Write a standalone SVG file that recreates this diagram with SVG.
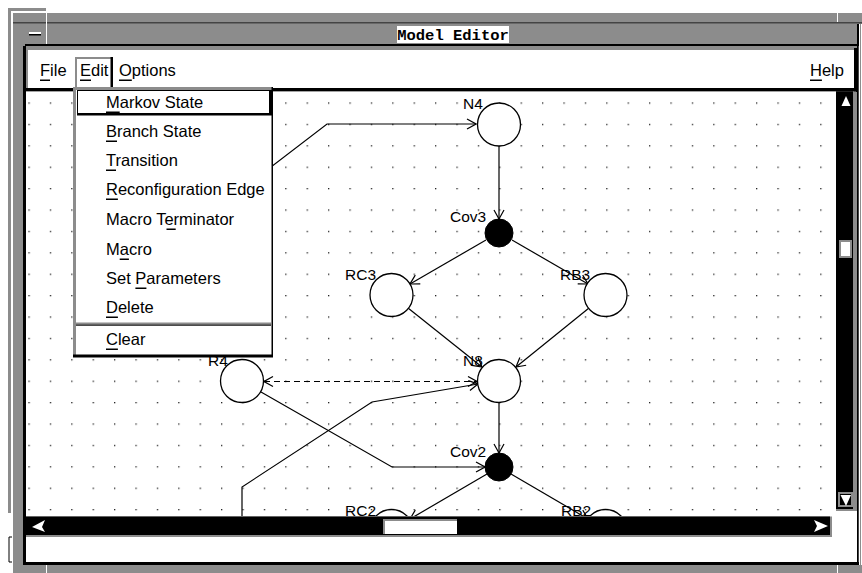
<svg xmlns="http://www.w3.org/2000/svg" width="862" height="573" viewBox="0 0 862 573">
<style>
.t{font-family:"Liberation Sans",Arial,sans-serif;font-size:16.5px;fill:#000}
.lb{font-family:"Liberation Sans",Arial,sans-serif;font-size:15.5px;fill:#000}
.ttl{font-family:"Liberation Mono","DejaVu Sans Mono",monospace;font-size:15.5px;font-weight:bold;fill:#000}
.e{fill:none;stroke:#000;stroke-width:1.2}
.d{stroke-dasharray:6 4}
.nd{fill:#fff;stroke:#000;stroke-width:1.3}
.bn{fill:#000;stroke:#000;stroke-width:1}
.st{fill:#8c8c8c}
.k{fill:#000}
.w{fill:#fff}
</style>
<defs>
<pattern id="grid" patternUnits="userSpaceOnUse" x="28.4" y="102.4" width="21.4" height="21.4"><rect width="1.3" height="1.3" fill="#222"/></pattern>
<marker id="ah" viewBox="0 0 12 12" refX="11" refY="6" markerWidth="12" markerHeight="12" markerUnits="userSpaceOnUse" orient="auto-start-reverse"><path d="M2,1 L11,6 L2,11" fill="none" stroke="#000" stroke-width="1.2"/></marker>
<clipPath id="cv"><rect x="26" y="92" width="810" height="424"/></clipPath>
</defs>

<rect width="862" height="573" fill="#fff"/>

<g id="window-frame">
  <rect class="st" x="13" y="13" width="849" height="560"/>
  <rect class="st" x="8" y="8" width="3" height="505"/>
  <rect class="st" x="8" y="8" width="39" height="3"/>
  <rect x="13" y="22" width="849" height="1.5" fill="#444"/>
  <rect class="w" x="46" y="8" width="1" height="37"/>
  <rect class="w" x="837" y="13" width="1" height="9"/>
  <rect class="w" x="29" y="32" width="12" height="2"/>
  <rect class="k" x="29" y="34" width="12" height="1.5"/>
  <rect class="k" x="25" y="44" width="834" height="2"/>
  <rect class="k" x="857" y="24" width="2" height="22"/>
  <rect class="w" x="859" y="24" width="3" height="541"/>
  <rect class="st" x="860" y="24" width="1" height="541"/>
  <rect class="w" x="397" y="26" width="112" height="17"/>
  <text class="ttl" x="453" y="40" text-anchor="middle">Model Editor</text>
  <rect class="k" x="23" y="46" width="3" height="519"/>
  <rect class="k" x="857" y="46" width="1.5" height="519"/>
  <rect class="w" x="46" y="565" width="1" height="8"/>
  <rect class="w" x="837" y="565" width="1" height="8"/>
  <path d="M12,537 L9,537 L9,562 L12,562" fill="none" stroke="#000" stroke-width="1"/>
</g>

<g id="menubar">
  <rect class="w" x="26" y="46" width="831" height="43"/>
  <rect class="st" x="26" y="46" width="831" height="4"/>
  <rect class="st" x="26" y="46" width="2" height="44"/>
  <rect class="k" x="854" y="48" width="3" height="44"/>
  <rect class="k" x="26" y="88" width="831" height="3.5"/>
  <text class="t" x="40" y="76">File</text>
  <rect class="k" x="40" y="79.5" width="10" height="1.5"/>
  <rect class="st" x="75" y="57" width="37" height="2"/>
  <rect class="st" x="75" y="57" width="2" height="33"/>
  <rect class="k" x="110.5" y="57" width="2.5" height="33"/>
  <text class="t" x="80" y="76">Edit</text>
  <rect class="k" x="80" y="79.5" width="11" height="1.5"/>
  <text class="t" x="119" y="76">Options</text>
  <rect class="k" x="119" y="79.5" width="12.8" height="1.5"/>
  <text class="t" x="810" y="76">Help</text>
  <rect class="k" x="810" y="79.5" width="11.9" height="1.5"/>
</g>

<g id="canvas">
  <rect x="26" y="91.5" width="810" height="425" fill="#fff"/>
  <rect x="26" y="91.5" width="810" height="425" fill="url(#grid)"/>
</g>

<g clip-path="url(#cv)">
  <g id="connectors">
    <polyline class="e" points="250,183 327,124 476,124" marker-end="url(#ah)"/>
    <line class="e" x1="499" y1="146" x2="499" y2="219" marker-end="url(#ah)"/>
    <line class="e" x1="486" y1="240" x2="410" y2="284" marker-end="url(#ah)"/>
    <line class="e" x1="512" y1="240" x2="588" y2="284" marker-end="url(#ah)"/>
    <line class="e" x1="408" y1="308" x2="482" y2="367" marker-end="url(#ah)"/>
    <line class="e" x1="589" y1="308" x2="516" y2="367" marker-end="url(#ah)"/>
    <line class="e d" x1="264" y1="381.5" x2="477" y2="381.5" marker-start="url(#ah)" marker-end="url(#ah)"/>
    <polyline class="e" points="242,520 242,487 372,402 478,384" marker-end="url(#ah)"/>
    <polyline class="e" points="261,392 392,467 485,467" marker-end="url(#ah)"/>
    <line class="e" x1="499" y1="403" x2="499" y2="453" marker-end="url(#ah)"/>
    <line class="e" x1="487" y1="474" x2="410" y2="519" marker-end="url(#ah)"/>
    <line class="e" x1="511" y1="474" x2="588" y2="519" marker-end="url(#ah)"/>
  </g>
  <g id="node-N4"><circle class="nd" cx="499" cy="124.5" r="21.5"/><text class="lb" x="463" y="109">N4</text></g>
  <g id="node-Cov3"><circle class="bn" cx="499" cy="233" r="14"/><text class="lb" x="450" y="222">Cov3</text></g>
  <g id="node-RC3"><circle class="nd" cx="391.5" cy="295" r="21.5"/><text class="lb" x="345" y="280">RC3</text></g>
  <g id="node-RB3"><circle class="nd" cx="605.5" cy="295" r="21.5"/><text class="lb" x="560" y="280">RB3</text></g>
  <g id="node-N8"><circle class="nd" cx="499" cy="381" r="21.5"/><text class="lb" x="463" y="366">N8</text></g>
  <g id="node-R4"><circle class="nd" cx="242" cy="381" r="21.5"/><text class="lb" x="208" y="366">R4</text></g>
  <g id="node-Cov2"><circle class="bn" cx="499" cy="467" r="14"/><text class="lb" x="450" y="457">Cov2</text></g>
  <g id="node-RC2"><circle class="nd" cx="391.5" cy="531" r="21.5"/><text class="lb" x="345" y="516">RC2</text></g>
  <g id="node-RB2"><circle class="nd" cx="605.5" cy="531" r="21.5"/><text class="lb" x="561" y="516">RB2</text></g>
</g>

<g id="scrollbars">
  <rect class="k" x="836" y="91.5" width="17" height="419"/>
  <rect class="st" x="853" y="91.5" width="3" height="420"/>
  <rect class="st" x="836" y="509" width="20" height="2"/>
  <polygon class="w" points="846,96 850.5,106 841.5,106"/>
  <rect class="st" x="839" y="240" width="13" height="18"/>
  <rect class="w" x="841" y="242" width="9" height="14"/>
  <rect class="st" x="838" y="492" width="15" height="15"/>
  <rect class="k" x="840" y="494" width="11" height="11"/>
  <polygon class="w" points="840.5,495 851,495 846,506"/>
  <rect class="w" x="830" y="511" width="27" height="51"/>
  <rect class="k" x="26" y="516.5" width="804" height="19"/>
  <rect class="st" x="26" y="535" width="806" height="2"/>
  <rect class="st" x="830" y="516.5" width="2" height="20"/>
  <polygon class="w" points="32,527 45,520 42,527 45,532"/>
  <polygon class="w" points="828,526 814,520 817,526 814,532"/>
  <rect class="st" x="383" y="519" width="74" height="15"/>
  <rect class="w" x="385" y="521" width="72" height="13"/>
  <rect class="w" x="26" y="537" width="831" height="25"/>
  <rect class="k" x="23" y="562" width="836" height="3"/>
</g>

<g id="edit-menu">
  <rect class="w" x="73" y="87" width="200" height="270"/>
  <rect class="st" x="73" y="87" width="200" height="3"/>
  <rect class="st" x="73" y="87" width="3" height="270"/>
  <rect class="k" x="271.5" y="87" width="1.5" height="270"/>
  <rect class="k" x="73" y="354.5" width="200" height="3"/>
  <rect x="77.5" y="90.5" width="192" height="23" fill="#fff" stroke="#000" stroke-width="1"/>
  <rect class="k" x="269" y="90" width="4" height="25"/>
  <rect class="k" x="77" y="113" width="196" height="2.5"/>
  <rect class="st" x="76" y="322.5" width="195" height="2"/>
  <rect class="k" x="76" y="324.5" width="195" height="1.2"/>
  <text class="t" x="106" y="108">Markov State</text>
  <rect class="k" x="106" y="111.5" width="13.7" height="1.5"/>
  <text class="t" x="106" y="137">Branch State</text>
  <rect class="k" x="106" y="140.5" width="11" height="1.5"/>
  <text class="t" x="106" y="166">Transition</text>
  <rect class="k" x="106" y="169.5" width="10" height="1.5"/>
  <text class="t" x="106" y="195">Reconfiguration Edge</text>
  <rect class="k" x="106" y="198.5" width="11.9" height="1.5"/>
  <text class="t" x="106" y="225">Macro Terminator</text>
  <rect class="k" x="166.5" y="228.5" width="9.2" height="1.5"/>
  <text class="t" x="106" y="255">Macro</text>
  <rect class="k" x="119.7" y="258.5" width="9.2" height="1.5"/>
  <text class="t" x="106" y="284">Set Parameters</text>
  <rect class="k" x="135.4" y="287.5" width="11" height="1.5"/>
  <text class="t" x="106" y="313">Delete</text>
  <rect class="k" x="106" y="316.5" width="11.9" height="1.5"/>
  <text class="t" x="106" y="345">Clear</text>
  <rect class="k" x="106" y="348.5" width="11.9" height="1.5"/>
</g>
</svg>
